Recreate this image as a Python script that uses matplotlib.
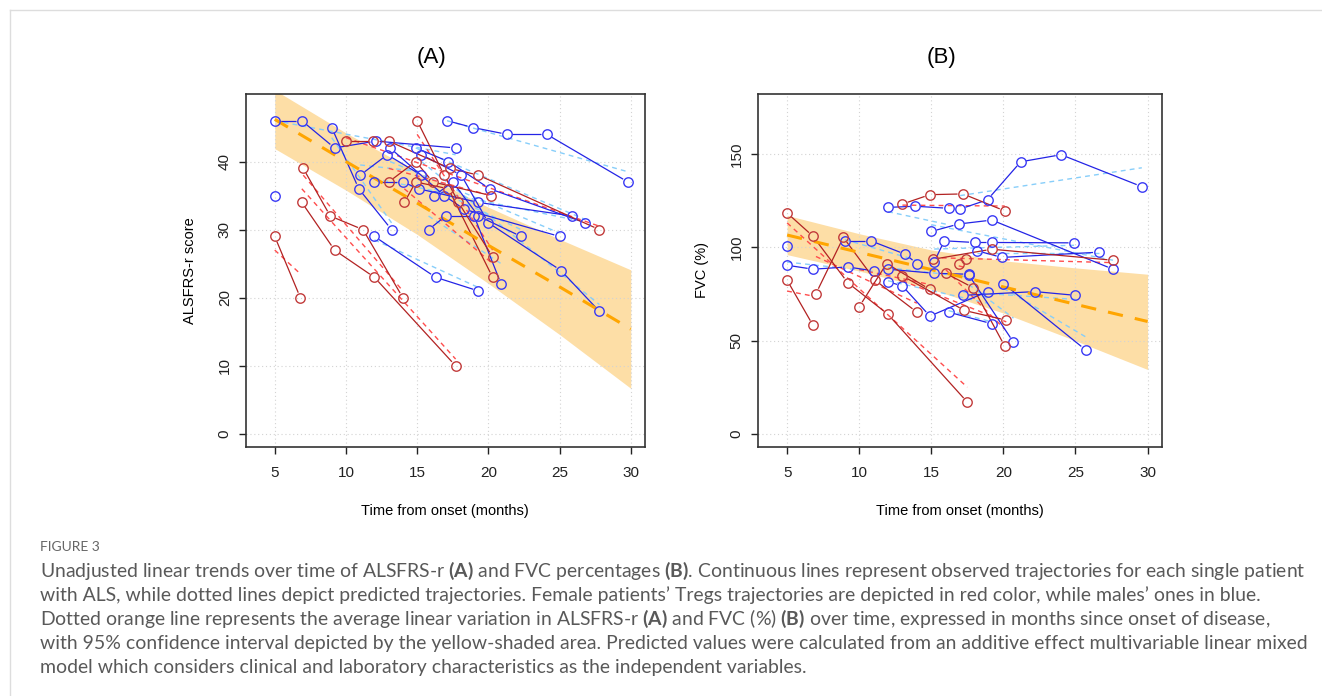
import numpy as np
import matplotlib
matplotlib.use('Agg')
import matplotlib.pyplot as plt
from matplotlib.lines import Line2D

plt.rcParams['font.family'] = ['Liberation Sans', 'DejaVu Sans']
plt.rcParams['mathtext.fontset'] = 'custom'
plt.rcParams['mathtext.rm'] = 'Lato'
plt.rcParams['mathtext.bf'] = 'Lato:bold'

#########
# Datos #
#########

band_months = [5, 10, 15, 20, 25, 30]

# (A) ALSFRS-r
a_mean = [46.2, 40.0, 33.9, 27.7, 21.6, 15.4]
a_lo   = [41.9, 35.8, 29.3, 22.1, 14.6, 6.7]
a_hi   = [50.5, 44.2, 38.5, 33.3, 28.6, 24.1]

a_sex = ['M', 'M', 'M', 'M', 'M', 'M', 'M', 'M', 'M', 'M', 'M', 'M',
         'F', 'F', 'F', 'F', 'F', 'F', 'F']
a_months = [
    [17.1, 18.9, 21.3, 24.1, 29.8],
    [5.0, 6.9, 9.2, 12.1, 17.7],
    [9.0, 10.9, 13.2],
    [5.0],
    [11.0, 12.9, 15.3],
    [12.0, 16.3, 19.3],
    [12.0, 14.0, 15.1, 19.3, 25.9],
    [14.9, 17.2, 20.1, 26.8],
    [15.3, 18.1, 20.0, 25.1, 27.8],
    [15.8, 17.0, 19.0, 20.9],
    [16.2, 17.5, 19.3, 22.3],
    [13.1, 16.9, 18.3, 25.0],
    [5.0, 6.8],
    [6.9, 9.2, 12.0, 17.7],
    [7.0, 8.9, 11.2, 14.0],
    [10.0, 11.9, 13.0, 17.3, 19.3, 27.8],
    [15.0, 16.9, 17.9, 20.3],
    [13.0, 14.9, 16.1, 20.2],
    [14.1, 14.9, 17.2, 20.3],
]
a_score = [
    [46, 45, 44, 44, 37],
    [46, 46, 42, 43, 42],
    [45, 36, 30],
    [35],
    [38, 41, 38],
    [29, 23, 21],
    [37, 37, 36, 34, 32],
    [42, 40, 36, 31],
    [41, 38, 31, 24, 18],
    [30, 32, 32, 22],
    [35, 37, 32, 29],
    [42, 35, 33, 29],
    [29, 20],
    [34, 27, 23, 10],
    [39, 32, 30, 20],
    [43, 43, 43, 39, 38, 30],
    [46, 38, 34, 26],
    [37, 40, 37, 35],
    [34, 37, 36, 23],
]
# predicho: valor al primer y al ultimo mes
a_pred = [
    [46, 38.5], [46, 41], [43.5, 31], None, [39.5, 38.5], [28.5, 21.5],
    [37.5, 31.5], [42, 31.5], [40, 19], [32, 25], [36, 30], [40, 29.5],
    [27, 23.5], [36, 11], [38, 21], [43.5, 30.5], [44, 27], [39, 35], [36, 25],
]

# (B) FVC (%)
b_mean = [106.5, 97.2, 88.0, 78.7, 69.4, 60.2]
b_lo   = [96.0, 87.2, 77.5, 64.7, 49.9, 34.5]
b_hi   = [117.0, 107.2, 98.5, 92.7, 88.9, 85.5]

b_sex = ['M', 'M', 'M', 'M', 'M', 'M', 'M', 'M', 'M', 'M', 'M', 'M', 'M', 'M',
         'F', 'F', 'F', 'F', 'F', 'F', 'F', 'F', 'F']
b_months = [
    [17.0, 18.9, 21.2, 24.0, 29.6],
    [12.0, 13.9, 16.2],
    [15.0, 16.9, 19.2, 27.6],
    [15.2, 15.9, 18.0, 19.2, 24.9],
    [5.0],
    [18.2, 19.9, 26.6],
    [9.0, 10.8, 13.2, 14.0],
    [5.0, 6.8, 9.2, 11.0],
    [12.0, 15.2, 17.6],
    [20.0, 25.7],
    [17.2, 22.2, 25.0],
    [12.0, 13.0, 14.9, 18.9],
    [16.2, 19.2],
    [17.6, 20.7],
    [5.0, 6.8, 9.2, 12.0, 17.5],
    [5.0, 6.8],
    [7.0, 8.9, 11.1, 14.0],
    [10.0, 11.9, 14.9],
    [13.0, 14.9, 17.2, 20.1],
    [13.0, 17.3, 20.2],
    [15.1, 19.2, 27.6],
    [16.0, 17.9, 20.1],
    [16.9, 17.4],
]
b_fvc = [
    [120.4, 125.4, 145.7, 149.5, 132.4],
    [121.3, 121.9, 120.8],
    [108.4, 112.4, 114.5, 88.2],
    [92.1, 103.4, 102.5, 102.5, 102.3],
    [100.4],
    [98.0, 94.5, 97.3],
    [103.4, 103.4, 96.2, 91.2],
    [90.3, 88.2, 89.4, 87.3],
    [88.2, 86.0, 85.5],
    [80.5, 45.0],
    [74.2, 76.2, 74.2],
    [81.5, 79.2, 63.1, 76.2],
    [65.2, 59.0],
    [85.1, 49.1],
    [118.3, 105.8, 81.0, 64.0, 17.0],
    [82.3, 58.1],
    [75.1, 105.2, 82.3, 65.2],
    [68.1, 91.2, 77.4],
    [123.1, 128.1, 128.5, 119.4],
    [84.6, 66.1, 60.9],
    [93.5, 98.9, 93.0],
    [86.0, 78.3, 46.9],
    [91.2, 93.5],
]
b_pred = [
    [127.6, 142.5], [119, 112], [112, 93], [99, 101], None, [97, 97],
    [104, 93], [92, 87], [89, 84], [78, 52], [76, 72], [82, 70], [66, 60],
    [80, 62],
    [113, 25], [76.5, 73.8], [95, 70], [88, 80], [122.5, 122], [82, 60],
    [94.4, 91.7], [88, 56], [90, 89],
]

x_ticks = [5, 10, 15, 20, 25, 30]

###########
# Colores #
###########

col_pt = {'F': '#C23B3B', 'M': '#3A3AF5'}
col_ln = {'F': '#B22222', 'M': '#2424E6'}
col_pr = {'F': '#FF4D4D', 'M': '#87CEFA'}
band_col = '#FDDEA6'
mean_col = '#FFA500'
grid_col = '#D3D3D3'

W, H = 1322, 696
fig = plt.figure(figsize=(W / 100, H / 100), dpi=100)
fig.patch.set_facecolor('white')

axA = fig.add_axes([245.7 / W, 1 - 447 / H, (645 - 245.7) / W, (447 - 94) / H])
axB = fig.add_axes([757.7 / W, 1 - 447 / H, (1162 - 757.7) / W, (447 - 94) / H])


def gap_line(ax, xs, ys, color, gap=5.5):
    # lineas tipo "b" de R: con hueco alrededor de cada punto
    pts = ax.transData.transform(np.column_stack([xs, ys]))
    inv = ax.transData.inverted()
    for p0, p1 in zip(pts[:-1], pts[1:]):
        d = p1 - p0
        L = np.hypot(*d)
        if L <= 2 * gap + 1:
            continue
        a = p0 + d / L * gap
        b = p1 - d / L * gap
        seg = inv.transform(np.array([a, b]))
        ax.plot(seg[:, 0], seg[:, 1], color=color, lw=0.9, zorder=4,
                solid_capstyle='butt')


def panel(ax, sex, months, vals, pred, mean, lo, hi, ylim, yticks, ylabel):
    ax.set_xlim(2.96, 31.0)
    ax.set_ylim(*ylim)
    ax.fill_between(band_months, lo, hi, color=band_col, lw=0, zorder=1)
    for t in x_ticks:
        ax.axvline(t, color=grid_col, lw=0.8, ls=(0, (1, 2.5)), zorder=2)
    for t in yticks:
        ax.axhline(t, color=grid_col, lw=0.8, ls=(0, (1, 2.5)), zorder=2)
    for s, xs, ys, pr in zip(sex, months, vals, pred):
        if pr is not None and len(xs) > 1:
            ax.plot([xs[0], xs[-1]], pr, color=col_pr[s], lw=1.0,
                    ls=(0, (3.5, 3)), zorder=3)
    for s, xs, ys in zip(sex, months, vals):
        gap_line(ax, xs, ys, col_ln[s])
    ax.plot(band_months, mean, color=mean_col, lw=2.2, ls=(0, (5, 4)), zorder=5)
    for s, xs, ys in zip(sex, months, vals):
        ax.plot(xs, ys, 'o', mfc='none', mec=col_pt[s], ms=6.8, mew=1.0, zorder=6)

    ax.set_xticks(x_ticks)
    ax.set_yticks(yticks)
    ax.tick_params(direction='out', length=5, width=1, colors='#222',
                   labelsize=11)
    ax.tick_params(axis='x', pad=9)
    ax.tick_params(axis='y', pad=5)
    plt.setp(ax.get_yticklabels(), rotation=90, va='center')
    for sp in ax.spines.values():
        sp.set_linewidth(1.2)
        sp.set_color('#333')
    ax.set_xlabel('Time from onset (months)', fontsize=10.5, labelpad=17)
    ax.set_ylabel(ylabel, fontsize=10.5, labelpad=15)


panel(axA, a_sex, a_months, a_score, a_pred, a_mean, a_lo, a_hi,
      (-1.92, 49.92), [0, 10, 20, 30, 40], 'ALSFRS-r score')
panel(axB, b_sex, b_months, b_fvc, b_pred, b_mean, b_lo, b_hi,
      (-7.0, 182.0), [0, 50, 100, 150], 'FVC (%)')

fig.text(431 / W, 1 - 58 / H, '(A)', fontsize=16, ha='center', va='center')
fig.text(941 / W, 1 - 58 / H, '(B)', fontsize=16, ha='center', va='center')

# marco de la pagina
fig.add_artist(Line2D([10 / W, 1], [1 - 10 / H, 1 - 10 / H], color='#DDDDDD', lw=1))
fig.add_artist(Line2D([10 / W, 10 / W], [0, 1 - 10 / H], color='#DDDDDD', lw=1))

###########
# Leyenda #
###########

cap_col = '#595959'
fig.text(40 / W, 1 - 551 / H, 'FIGURE 3', fontsize=10, color='#666666',
         family='Lato', va='baseline')

cap_lines = [
    r'Unadjusted linear trends over time of ALSFRS-r $\mathbf{(A)}$ and FVC percentages $\mathbf{(B)}$. Continuous lines represent observed trajectories for each single patient',
    'with ALS, while dotted lines depict predicted trajectories. Female patients\u2019 Tregs trajectories are depicted in red color, while males\u2019 ones in blue.',
    r'Dotted orange line represents the average linear variation in ALSFRS-r $\mathbf{(A)}$ and FVC (%) $\mathbf{(B)}$ over time, expressed in months since onset of disease,',
    'with 95% confidence interval depicted by the yellow-shaded area. Predicted values were calculated from an additive effect multivariable linear mixed',
    'model which considers clinical and laboratory characteristics as the independent variables.',
]

r = fig.canvas.get_renderer()
probe = fig.text(0, 0, cap_lines[0], fontsize=12, family='Lato')
w0 = probe.get_window_extent(renderer=r).width
probe.remove()
cap_size = 12 * 1260 / w0

for i, line in enumerate(cap_lines):
    fig.text(40 / W, 1 - (577 + 24 * i) / H, line, fontsize=cap_size,
             color=cap_col, family='Lato', va='baseline')

fig.savefig('out.png', dpi=100)
